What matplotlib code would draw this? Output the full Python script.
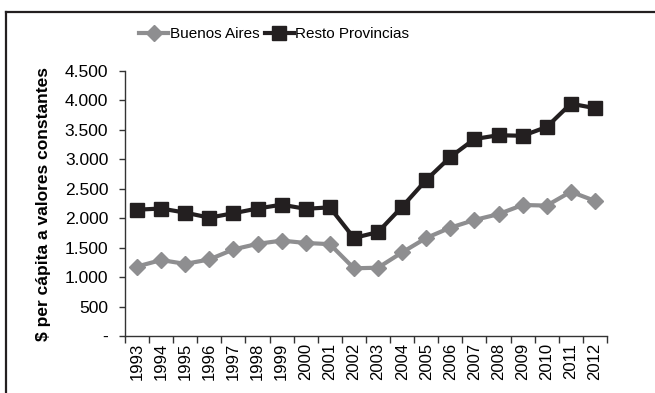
import numpy as np
import matplotlib
matplotlib.use("Agg")
import matplotlib.pyplot as plt
from matplotlib.lines import Line2D

plt.rcParams['font.family'] = ['Liberation Sans', 'DejaVu Sans']

# Gasto per cápita a valores constantes
years = [str(y) for y in range(1993, 2013)]
buenos_aires = [1180, 1290, 1225, 1300, 1470, 1565, 1620, 1580, 1560, 1150, 1160,
                1420, 1665, 1840, 1970, 2070, 2225, 2215, 2450, 2295]
resto_provincias = [2145, 2165, 2095, 2010, 2085, 2165, 2230, 2160, 2185, 1665, 1765,
                    2195, 2650, 3040, 3345, 3410, 3400, 3550, 3945, 3870]
yticks = [0, 500, 1000, 1500, 2000, 2500, 3000, 3500, 4000, 4500]
ytick_labels = ['-', '500', '1.000', '1.500', '2.000', '2.500', '3.000', '3.500', '4.000', '4.500']

gray = '#8e8e90'
black = '#231f20'

fig = plt.figure(figsize=(6.55, 3.93), dpi=100)
ax = fig.add_axes([0.1908, 0.145, 0.7359, 0.6743])

x = np.arange(len(years))
ax.plot(x, buenos_aires, color=gray, lw=3, marker='D', ms=8.5, mec=gray, mfc=gray,
        label='Buenos Aires')
ax.plot(x, resto_provincias, color=black, lw=3, marker='s', ms=9.5, mec=black, mfc=black,
        label='Resto Provincias')

ax.set_xlim(-0.5, len(years) - 0.5)
ax.set_ylim(0, 4500)
ax.set_yticks(yticks)
ax.set_yticklabels(ytick_labels, fontsize=12.5)

# tick marks between categories, labels centred on each year
ax.set_xticks(np.arange(-0.5, len(years), 1.0))
ax.set_xticklabels([])
ax.set_xticks(x, minor=True)
ax.set_xticklabels(years, minor=True, rotation=90, fontsize=12)
ax.tick_params(axis='x', which='major', length=5, width=1, color='#333333')
ax.tick_params(axis='x', which='minor', length=0, pad=5)
ax.tick_params(axis='y', length=4, width=1, color='#333333', pad=8)

for s in ['top', 'right']:
    ax.spines[s].set_visible(False)
for s in ['left', 'bottom']:
    ax.spines[s].set_color('#333333')
    ax.spines[s].set_linewidth(1)

ax.set_ylabel('$ per cápita a valores constantes', fontsize=12.5, fontweight='bold',
              labelpad=10)

leg = fig.legend(loc='center', bbox_to_anchor=(0.419, 0.913), ncol=2, frameon=False,
                 fontsize=11, handlelength=1.9, handletextpad=0.1, columnspacing=0.35)

# outer frame
fig.add_artist(Line2D([6 / 655, 1.0], [1 - 12 / 393, 1 - 12 / 393], color='#231f20', lw=1.6,
                      transform=fig.transFigure))
fig.add_artist(Line2D([6 / 655, 6 / 655], [0, 1 - 12 / 393], color='#231f20', lw=1.6,
                      transform=fig.transFigure))

fig.savefig('out.png', dpi=100)
